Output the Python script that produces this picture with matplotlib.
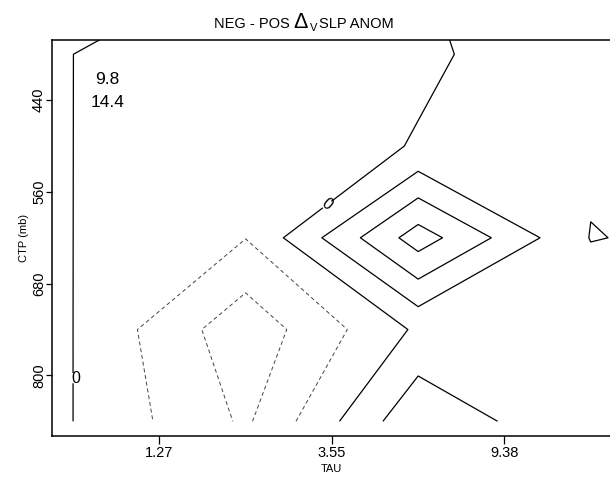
import numpy as np
import matplotlib.pyplot as plt

plt.rcParams['font.family'] = 'Liberation Sans'

# TAU bin boundaries shown on the x axis, CTP boundaries on the y axis
tau_ticks = ['1.27', '3.55', '9.38']
ctp_ticks = ['440', '560', '680', '800']

# composite difference, one row per CTP bin, one value per TAU bin
# (0-1.27, 1.27-3.55, 3.55-9.38, 9.38-23, 23-60)
ctp_180_310 = [0.9, -0.031, -0.03, 0.9, 0.8]
ctp_310_440 = [0.001, -0.4, -0.13, 0.49, 0.6]
ctp_440_560 = [0.001, -0.575, 0.05, 0.19, 0.5]
ctp_560_680 = [0.001, -0.98, 3.5, -0.04, 0.36]
ctp_680_800 = [0.001, -2.68, 0.17, 0.83, 0.6]
ctp_800_1000 = [0.001, -2.16, 1.81, 0.05, 0.3]

neg_levels = [-2, -1]
pos_levels = [1, 2, 3]
stats = ['9.8', '14.4']

z = np.array([ctp_180_310, ctp_310_440, ctp_440_560,
              ctp_560_680, ctp_680_800, ctp_800_1000])
tau = np.arange(z.shape[1])
ctp = np.arange(z.shape[0])

fig = plt.figure(figsize=(6.1, 4.78), dpi=100)
ax = fig.add_axes([0.0857, 0.0879, 0.9167, 0.8293])

# negative contours dashed, zero and positive solid
ax.contour(tau, ctp, z, levels=neg_levels, colors='#444444',
           linestyles=[(0, (4, 3))], linewidths=0.7)
ax.contour(tau, ctp, z, levels=pos_levels, colors='black',
           linestyles='solid', linewidths=0.9)
cs0 = ax.contour(tau, ctp, z, levels=[0], colors='black',
                 linestyles='solid', linewidths=0.9)

labels = ax.clabel(cs0, manual=[(0.01, 4.53), (1.476, 2.646)],
                   inline=True, inline_spacing=0, fmt='%d', fontsize=11.5)
labels[0].set_rotation(0)
labels[0].set_x(0.018)

ax.set_xlim(-0.12, 3.12)
ax.set_ylim(5.16, 0.84)
ax.set_xticks([0.5, 1.5, 2.5], tau_ticks)
ax.set_yticks([1.5, 2.5, 3.5, 4.5], ctp_ticks, rotation=90, va='center')
ax.tick_params(axis='x', length=5.8, width=0.9, labelsize=10.5, pad=1.5)
ax.tick_params(axis='y', length=4, width=0.9, labelsize=10.5, pad=0.5)
for sp in ax.spines.values():
    sp.set_linewidth(1.1)

ax.set_xlabel('TAU', fontsize=8, labelpad=3)
ax.set_ylabel('CTP (mb)', fontsize=8, labelpad=2.4)

# the two numbers in the upper-left corner
fig.text(107.5 / 610, 1 - 80 / 478, stats[0], ha='center', va='center', fontsize=12.5)
fig.text(107.5 / 610, 1 - 102.7 / 478, stats[1], ha='center', va='center', fontsize=12.5)

# title built from pieces so the delta can be drawn larger
ty = 1 - 27.5 / 478
fig.text(290 / 610, ty, 'NEG - POS', ha='right', va='baseline', fontsize=10.5)
fig.text(293 / 610, ty, '\u0394', ha='left', va='baseline', fontsize=15.5)
fig.text(309.5 / 610, ty - 3 / 478, 'V', ha='left', va='baseline', fontsize=8)
fig.text(319 / 610, ty, 'SLP ANOM', ha='left', va='baseline', fontsize=10.5)

fig.savefig('out.png', dpi=100)
